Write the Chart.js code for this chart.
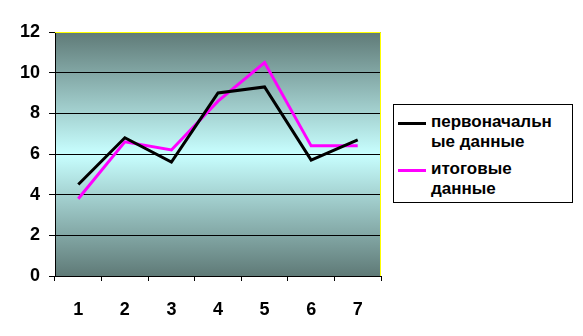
<!DOCTYPE html>
<html>
<head>
<meta charset="utf-8">
<script src="https://cdn.jsdelivr.net/npm/chart.js@4/dist/chart.umd.min.js"></script>
<style>
  html, body { margin: 0; padding: 0; background: #fff; }
  #wrap { position: relative; width: 583px; height: 336px; }
  #legend {
    position: absolute; left: 393px; top: 104px; width: 180px; height: 99px;
    border: 1px solid #000; box-sizing: border-box; background: #fff;
    font: bold 17px "Liberation Sans", Arial, sans-serif; color: #000;
    padding: 7px 2px 0 4px;
  }
  .item { display: flex; align-items: flex-start; margin-bottom: 7px; }
  .swatch { width: 28px; height: 3px; margin-top: 10px; margin-right: 5px; flex: none; }
  .text { width: 135px; line-height: 20px; overflow-wrap: anywhere; }
</style>
</head>
<body>
<div id="wrap">
  <canvas id="chart" width="583" height="336"></canvas>
  <div id="legend"></div>
</div>
<script>
const categories = ['1', '2', '3', '4', '5', '6', '7'];
const seriesNames = ['первоначальные данные', 'итоговые данные'];
const initialData = [4.5, 6.8, 5.6, 9.0, 9.3, 5.7, 6.7];
const finalData = [3.8, 6.6, 6.2, 8.6, 10.5, 6.4, 6.4];
const seriesColors = ['#000000', '#ff00ff'];

const FONT = { family: '"Liberation Sans", Arial, sans-serif', size: 18, weight: 'bold' };

const plotBackground = {
  id: 'plotBackground',
  beforeDraw(chart) {
    const { ctx, chartArea: a } = chart;
    const g = ctx.createLinearGradient(0, a.top, 0, a.bottom);
    g.addColorStop(0, '#5f7a77');
    g.addColorStop(0.5, '#c8ffff');
    g.addColorStop(1, '#5f7a77');
    ctx.save();
    ctx.fillStyle = g;
    ctx.fillRect(a.left, a.top, a.right - a.left, a.bottom - a.top);
    ctx.restore();
  },
  afterDatasetsDraw(chart) {
    const { ctx, chartArea: a } = chart;
    ctx.save();
    ctx.strokeStyle = '#ffff00';
    ctx.lineWidth = 1;
    ctx.beginPath();
    ctx.moveTo(a.left, a.top + 0.5);
    ctx.lineTo(a.right - 0.5, a.top + 0.5);
    ctx.lineTo(a.right - 0.5, a.bottom);
    ctx.stroke();
    ctx.restore();
  },
};

new Chart(document.getElementById('chart'), {
  type: 'line',
  data: {
    labels: categories,
    datasets: [
      { label: seriesNames[0], data: initialData, borderColor: seriesColors[0], borderWidth: 3, pointRadius: 0, tension: 0 },
      { label: seriesNames[1], data: finalData, borderColor: seriesColors[1], borderWidth: 3, pointRadius: 0, tension: 0 },
    ],
  },
  options: {
    responsive: false,
    animation: false,
    layout: { padding: { left: 0, top: 32, right: 202, bottom: 0 } },
    plugins: { legend: { display: false }, tooltip: { enabled: false } },
    scales: {
      x: {
        offset: true,
        grid: { offset: true, drawOnChartArea: false, drawTicks: true, tickLength: 5, color: '#000' },
        border: { color: '#000', width: 1 },
        ticks: { color: '#000', font: FONT, padding: 18, maxRotation: 0 },
        afterFit(scale) { scale.height = 60; },
      },
      y: {
        min: 0,
        max: 12,
        ticks: { stepSize: 2, color: '#000', font: FONT, padding: 9 },
        grid: {
          color: (c) => (c.tick && c.tick.value === 12 ? 'rgba(0,0,0,0)' : '#000'),
          tickColor: '#000',
          tickLength: 6,
        },
        border: { color: '#000', width: 1 },
        afterFit(scale) { scale.width = 55; },
      },
    },
  },
  plugins: [plotBackground],
});

const legendEl = document.getElementById('legend');
seriesNames.forEach((name, i) => {
  const item = document.createElement('div');
  item.className = 'item';
  const sw = document.createElement('div');
  sw.className = 'swatch';
  sw.style.background = seriesColors[i];
  const tx = document.createElement('div');
  tx.className = 'text';
  tx.textContent = name;
  item.appendChild(sw);
  item.appendChild(tx);
  legendEl.appendChild(item);
});
</script>
</body>
</html>
